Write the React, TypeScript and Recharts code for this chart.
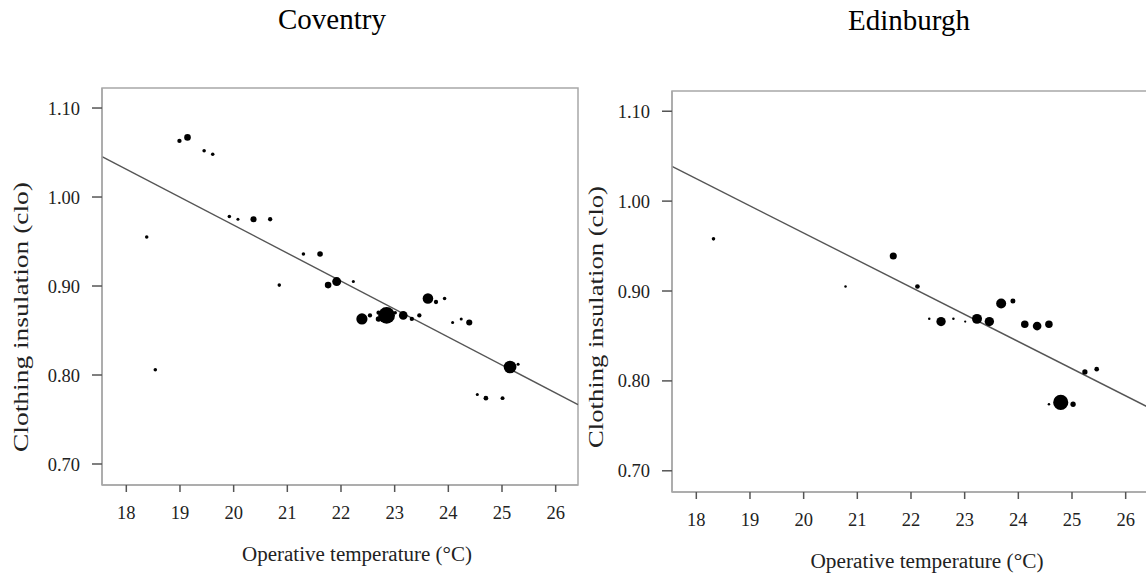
import React from "react";
import {
  ScatterChart,
  Scatter,
  XAxis,
  YAxis,
  ZAxis,
  ReferenceLine,
  ReferenceArea,
  Label,
} from "recharts";

const SERIF = "'Liberation Serif', 'Times New Roman', Times, serif";

const xTicks = [18, 19, 20, 21, 22, 23, 24, 25, 26];
const yTicks = [0.7, 0.8, 0.9, 1.0, 1.1];
const xDomain = [17.547, 26.416];
const yDomain = [0.6764, 1.1225];

// Coventry: operative temperature, clothing insulation, number of votes
const coventryTemp = [
  18.38, 18.54, 18.99, 19.14, 19.45, 19.61, 19.92, 20.08, 20.37, 20.68, 20.85, 21.3,
  21.61, 21.76, 21.92, 22.23, 22.39, 22.54, 22.7, 22.7, 22.85, 23.01, 23.16, 23.32,
  23.46, 23.62, 23.77, 23.93, 24.08, 24.24, 24.39, 24.54, 24.7, 25.01, 25.15, 25.3,
];
const coventryClo = [
  0.955, 0.806, 1.063, 1.067, 1.052, 1.048, 0.978, 0.975, 0.975, 0.975, 0.901, 0.936,
  0.936, 0.901, 0.905, 0.905, 0.863, 0.867, 0.87, 0.863, 0.867, 0.87, 0.867, 0.863,
  0.867, 0.886, 0.882, 0.886, 0.859, 0.863, 0.859, 0.778, 0.774, 0.774, 0.809, 0.812,
];
const coventryN = [
  2, 2, 3, 7, 2, 2, 2, 1.5, 6, 3, 2, 2,
  5, 7, 13, 1.5, 20, 3, 3, 5, 45, 2, 12, 3,
  3, 18, 3, 2, 1.5, 1.5, 6, 1.5, 3.5, 2.5, 26, 1.5,
];
const coventryFit = [1.0455, 0.7667];

// Edinburgh
const edinburghTemp = [
  18.32, 20.78, 21.67, 22.12, 22.34, 22.56, 22.79, 23.01, 23.23, 23.46,
  23.68, 23.9, 24.12, 24.35, 24.57, 24.57, 24.79, 25.02, 25.24, 25.46,
];
const edinburghClo = [
  0.958, 0.905, 0.939, 0.905, 0.869, 0.866, 0.869, 0.866, 0.869, 0.866,
  0.886, 0.889, 0.863, 0.861, 0.863, 0.774, 0.776, 0.774, 0.81, 0.813,
];
const edinburghN = [
  2, 1, 8, 3.5, 1, 14, 1, 0.8, 16, 14,
  16, 4, 9, 12, 9, 1, 37, 4.5, 4.5, 3.5,
];
const edinburghFit = [1.0386, 0.7708];

const rows = (t: number[], c: number[], n: number[]) =>
  t.map((v, i) => ({ temp: v, clo: c[i], n: n[i] }));

const frameColor = "#a8a8a8";
const frame = { stroke: frameColor, strokeWidth: 1.5 };
const tickLine = { stroke: "#555", strokeWidth: 1.5 };
const tickStyle = { fill: "#222", fontSize: 18.5, fontFamily: SERIF };

const yTitle = (x: number, y: number, len: number) => () => (
  <text
    x={x}
    y={y}
    transform={`rotate(-90 ${x} ${y})`}
    textAnchor="middle"
    fontFamily={SERIF}
    fontSize={21}
    fill="#222"
    textLength={len}
    lengthAdjust="spacingAndGlyphs"
  >
    Clothing insulation (clo)
  </text>
);

const xTitle = (x: number, y: number, len: number) => () => (
  <text
    x={x}
    y={y}
    textAnchor="middle"
    fontFamily={SERIF}
    fontSize={20.5}
    fill="#222"
    textLength={len}
    lengthAdjust="spacingAndGlyphs"
  >
    Operative temperature (°C)
  </text>
);

interface PanelProps {
  left: number;
  width: number;
  top: number;
  xHeight: number;
  yWidth: number;
  right: number;
  data: { temp: number; clo: number; n: number }[];
  fit: number[];
  yLab: [number, number, number];
  xLab: [number, number, number];
}

function Panel({ left, width, top, xHeight, yWidth, right, data, fit, yLab, xLab }: PanelProps) {
  return (
    <div style={{ position: "absolute", left, top: 0, fontFamily: SERIF }}>
      <ScatterChart
        width={width}
        height={579}
        margin={{ top, right, bottom: 0, left: 0 }}
      >
        <XAxis
          dataKey="temp"
          type="number"
          domain={xDomain}
          allowDataOverflow
          ticks={xTicks}
          interval={0}
          height={xHeight}
          tickSize={7}
          tickMargin={14}
          axisLine={frame}
          tickLine={tickLine}
          tick={tickStyle}
        >
          <Label content={xTitle(xLab[0], xLab[1], xLab[2])} />
        </XAxis>
        <YAxis
          dataKey="clo"
          type="number"
          domain={yDomain}
          allowDataOverflow
          ticks={yTicks}
          interval={0}
          width={yWidth}
          tickSize={10}
          tickMargin={12}
          tickFormatter={(v: number) => v.toFixed(2)}
          axisLine={frame}
          tickLine={tickLine}
          tick={tickStyle}
        >
          <Label content={yTitle(yLab[0], yLab[1], yLab[2])} />
        </YAxis>
        <ZAxis dataKey="n" type="number" domain={[0, 50]} range={[0, 245]} />
        <ReferenceArea
          x1={xDomain[0]}
          x2={xDomain[1]}
          y1={yDomain[0]}
          y2={yDomain[1]}
          fill="none"
          fillOpacity={0}
          stroke={frameColor}
          strokeWidth={1.5}
          ifOverflow="visible"
        />
        <ReferenceLine
          segment={[
            { x: xDomain[0], y: fit[0] },
            { x: xDomain[1], y: fit[1] },
          ]}
          stroke="#555"
          strokeWidth={1.4}
          ifOverflow="visible"
        />
        <Scatter data={data} fill="#000" shape="circle" isAnimationActive={false} />
      </ScatterChart>
    </div>
  );
}

export default function App() {
  const titleStyle: React.CSSProperties = {
    position: "absolute",
    width: 240,
    textAlign: "center",
    fontFamily: SERIF,
    fontSize: 29,
    lineHeight: "29px",
    color: "#000",
  };
  return (
    <div
      style={{
        position: "fixed",
        left: 0,
        top: 0,
        width: 1146,
        height: 579,
        overflow: "hidden",
        background: "#fff",
      }}
    >
      <Panel
        left={0}
        width={580}
        top={88}
        xHeight={94}
        yWidth={102}
        right={2}
        data={rows(coventryTemp, coventryClo, coventryN)}
        fit={coventryFit}
        yLab={[28, 317, 270]}
        xLab={[357, 561, 230]}
      />
      <Panel
        left={580}
        width={590}
        top={91}
        xHeight={87}
        yWidth={92}
        right={22}
        data={rows(edinburghTemp, edinburghClo, edinburghN)}
        fit={edinburghFit}
        yLab={[23, 317, 262]}
        xLab={[347, 568, 233]}
      />
      <div style={{ ...titleStyle, left: 212, top: 5 }}>Coventry</div>
      <div style={{ ...titleStyle, left: 789, top: 6 }}>Edinburgh</div>
    </div>
  );
}
